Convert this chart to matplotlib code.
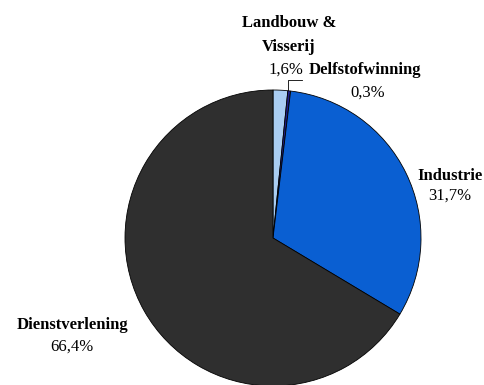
import matplotlib
matplotlib.use('Agg')
import matplotlib.pyplot as plt

# Data
sectors = ['Landbouw &\nVisserij', 'Delfstofwinning', 'Industrie', 'Dienstverlening']
shares = [1.6, 0.3, 31.7, 66.4]
colors = ['#a9cdf2', '#1c1f86', '#0a5fd2', '#2f2f2f']

# name / percent positions in pixels (x, y from top)
name_px = [(289, 35), (365, 70), (450, 176), (72, 325)]
pct_px = [(286, 70), (368, 93), (450, 196), (72, 347)]

plt.rcParams['font.family'] = ['Liberation Serif', 'DejaVu Serif']

fig = plt.figure(figsize=(4.85, 3.85), dpi=100)
cx, cy, r = 273, 238, 148
ax = fig.add_axes([(cx - r) / 485, (385 - cy - r) / 385, 2 * r / 485, 2 * r / 385])

ax.pie(shares, colors=colors, startangle=90, counterclock=False,
       wedgeprops={'edgecolor': 'black', 'linewidth': 0.6})
ax.set_xlim(-1, 1)
ax.set_ylim(-1, 1)
ax.set_aspect('equal')


def to_data(px, py):
    return (px - cx) / r, (cy - py) / r


for name, val, (nx, ny), (qx, qy) in zip(sectors, shares, name_px, pct_px):
    pct = f'{val:.1f}%'.replace('.', ',')
    x, y = to_data(nx, ny)
    ax.text(x, y, name, ha='center', va='center', fontsize=12, fontweight='bold',
            linespacing=1.6, clip_on=False)
    x, y = to_data(qx, qy)
    ax.text(x, y, pct, ha='center', va='center', fontsize=12, clip_on=False)

# leader line for Delfstofwinning
lx0, ly0 = to_data(288, 90)
lx1, ly1 = to_data(288, 80)
lx2, ly2 = to_data(302, 80)
ax.plot([lx0, lx1, lx2], [ly0, ly1, ly2], color='black', lw=0.6, clip_on=False)

ax.axis('off')
fig.savefig('out.png', dpi=100)
